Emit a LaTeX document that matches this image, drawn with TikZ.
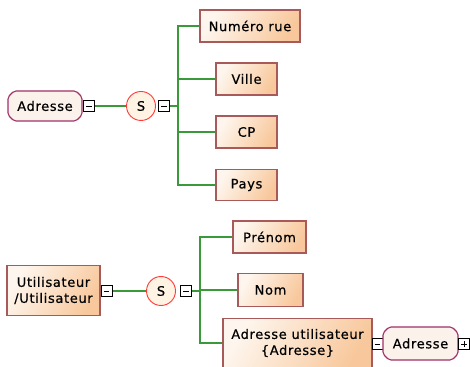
\documentclass[tikz,border=0pt]{standalone}
\usepackage{fontspec}
\setmainfont{DejaVu Sans}[LetterSpace=5,FakeBold=0.6]
\usetikzlibrary{shapes.misc}
\definecolor{grn}{HTML}{3A9A3A}
\definecolor{entb}{HTML}{A85A5A}
\definecolor{enta}{HTML}{FEF6EE}
\definecolor{entz}{HTML}{F8C89C}
\definecolor{refb}{HTML}{A03068}
\definecolor{reff}{HTML}{FBF2EC}
\definecolor{sred}{HTML}{FF3A3A}
\definecolor{sfill}{HTML}{FFF3E3}
\tikzset{
  txt/.style={font=\fontsize{13}{16}\selectfont},
  entity/.style={txt, draw=entb, line width=1.1pt, shading=axis, left color=enta, right color=entz, shading angle=60, inner sep=0pt, align=center},
  refbox/.style={txt, draw=refb, line width=1.1pt, fill=reff, chamfered rectangle, chamfered rectangle xsep=3pt, chamfered rectangle ysep=3pt, rounded corners=2pt, inner sep=0pt, minimum width=74pt, minimum height=30pt},
  seq/.style={txt, circle, draw=sred, fill=sfill, line width=0.9pt, minimum size=29pt, inner sep=0pt},
  toggle/.style={draw=black, fill=white, line width=0.8pt, minimum size=11pt, inner sep=0pt},
  link/.style={grn, line width=1.3pt},
}
\newcommand{\minusmark}[1]{\draw[line width=0.9pt] ([xshift=-2.8pt]#1.center) -- ([xshift=2.8pt]#1.center);}
\begin{document}
\begin{tikzpicture}[x=1pt,y=1pt]
\useasboundingbox (0,0) rectangle (470,366);
\fill[white] (0,0) rectangle (470,366);
% top group
\node[refbox] (adr1) at (45,260) {Adresse};
\node[toggle] (m1) at (89,260) {};
\node[seq] (s1) at (141,260) {S};
\node[toggle] (m2) at (164,260) {};
\node[entity, minimum width=100pt, minimum height=32pt] (num) at (250,340) {Numéro rue};
\node[entity, minimum width=61pt, minimum height=32pt] (ville) at (246.5,287) {Ville};
\node[entity, minimum width=61pt, minimum height=32pt] (cp) at (246.5,234) {CP};
\node[entity, minimum width=61pt, minimum height=31pt] (pays) at (246.5,181) {Pays};
\coordinate (b1) at (178,260);
\draw[link] (m1.east) -- (s1.west);
\draw[link] (m2.east) -- (b1);
\draw[link] (num.west) -| (b1) |- (pays.west);
\draw[link] (ville.west) -- (ville.west -| b1);
\draw[link] (cp.west) -- (cp.west -| b1);
\node[toggle] at (89,260) {};
\node[toggle] at (164,260) {};
\minusmark{m1}
\minusmark{m2}
% bottom group
\node[entity, minimum width=93pt, minimum height=50pt] (util) at (53.5,75.5) {Utilisateur\\/Utilisateur};
\node[toggle] (m3) at (106.5,75) {};
\node[seq] (s2) at (161,75) {S};
\node[toggle] (m4) at (186,75) {};
\node[entity, minimum width=73pt, minimum height=32pt] (pre) at (269.5,129) {Prénom};
\node[entity, minimum width=65pt, minimum height=33pt] (nom) at (270.5,76) {Nom};
\node[entity, minimum width=149pt, minimum height=49pt] (au) at (297.5,23) {Adresse utilisateur\\\{Adresse\}};
\node[toggle] (m5) at (377.5,22) {};
\node[refbox, minimum width=75pt, minimum height=33pt] (adr2) at (420.5,22.5) {Adresse};
\node[toggle] (p1) at (464,22) {};
\coordinate (b2) at (200,75);
\draw[link] (m3.east) -- (s2.west);
\draw[link] (m4.east) -- (b2);
\draw[link] (pre.west) -| (b2) |- (au.west);
\draw[link] (nom.west) -- (nom.west -| b2);
\node[toggle] at (106.5,75) {};
\node[toggle] at (186,75) {};
\minusmark{m3}
\minusmark{m4}
\minusmark{m5}
\minusmark{p1}
\draw[line width=0.9pt] ([yshift=-2.8pt]p1.center) -- ([yshift=2.8pt]p1.center);
\end{tikzpicture}
\end{document}
